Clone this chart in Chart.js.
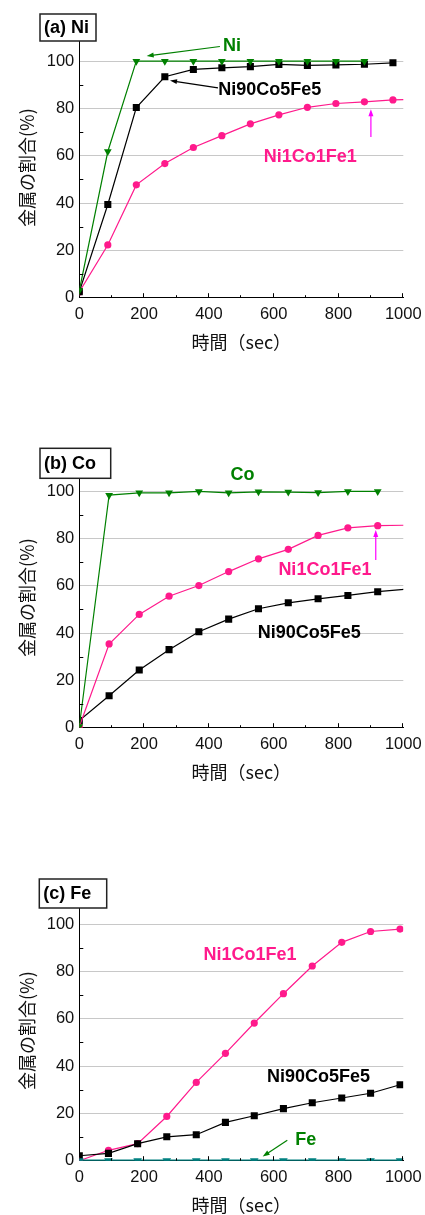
<!DOCTYPE html>
<html>
<head>
<meta charset="utf-8">
<script src="https://cdn.jsdelivr.net/npm/chart.js@4"></script>
<style>
body { margin: 0; background: #fff; }
#wrap { position: relative; width: 425px; height: 1215px; }
.panel { position: absolute; left: 0; width: 425px; height: 360px; }
</style>
</head>
<body>
<div id="wrap">
  <div class="panel" style="top:0px"><canvas id="chartA"></canvas></div>
  <div class="panel" style="top:430px"><canvas id="chartB"></canvas></div>
  <div class="panel" style="top:863px"><canvas id="chartC"></canvas></div>
</div>
<script>
// axis ticks
const xTicks = [0, 200, 400, 600, 800, 1000];
const yTicks = [0, 20, 40, 60, 80, 100];

// (a) Ni
const timeA = [0, 88, 176, 264, 352, 440, 528, 616, 704, 792, 880, 968, 1056];
const niA = [3, 61.8, 100, 100, 100, 100, 100, 100, 100, 100, 100];
const ni90A = [2.5, 39.4, 80.4, 93.4, 96.5, 97.2, 97.7, 98.6, 98.2, 98.4, 98.7, 99.3];
const ni1A = [2.4, 22.3, 47.7, 56.7, 63.5, 68.5, 73.5, 77.3, 80.5, 82.1, 82.8, 83.6, 83.9];

// (b) Co
const timeB = [0, 92, 185, 277, 369, 461, 553, 645, 737, 829, 921, 1013];
const coB = [0.5, 98.3, 99.3, 99.3, 99.9, 99.3, 99.7, 99.6, 99.4, 99.9, 99.9];
const ni1B = [0.4, 35.4, 47.9, 55.6, 60.1, 66.0, 71.4, 75.4, 81.3, 84.5, 85.4, 85.6];
const ni90B = [3.0, 13.5, 24.4, 33.0, 40.6, 45.9, 50.3, 52.8, 54.5, 55.9, 57.5, 58.6];

// (c) Fe
const timeC = [0, 90, 180, 270, 361, 451, 540, 630, 719, 810, 899, 990];
const ni1C = [0, 4.4, 7.2, 18.7, 33.1, 45.4, 58.2, 70.6, 82.3, 92.3, 96.9, 97.9];
const ni90C = [2.1, 3.1, 7.2, 10.1, 11.0, 16.2, 19.0, 22.0, 24.5, 26.5, 28.5, 32.1];
const feC = [0, 0, 0, 0, 0, 0, 0, 0, 0, 0, 0, 0];

const GREEN = '#008000';
const PINK = '#ff1a8c';
const MAGENTA = '#ff00ff';
const TEAL = '#008080';
const BLACK = '#000000';
const LABEL_FONT = 'bold 18px "Liberation Sans", Arial, sans-serif';
const TICK_FONT = { family: '"Liberation Sans", Arial, sans-serif', size: 16.5 };

function pts(xs, ys) {
    return ys.map((y, i) => ({ x: xs[i], y: y }));
}

function line(label, xs, ys, color, style, radius, rotation, width) {
    return {
        label: label,
        data: pts(xs, ys),
        borderColor: color,
        backgroundColor: color,
        borderWidth: width || 1.2,
        pointStyle: style,
        pointRadius: c => (c.raw && c.raw.x > 1000) ? 0 : radius,
        pointRotation: rotation || 0,
        pointBorderWidth: 0,
        tension: 0
    };
}

const notes = {
    id: 'notes',
    afterDraw(chart, args, opts) {
        const ctx = chart.ctx;
        const xs = chart.scales.x, ys = chart.scales.y;
        const area = chart.chartArea;
        ctx.save();
        // inward minor ticks
        ctx.strokeStyle = '#000';
        ctx.lineWidth = 1;
        for (let v = 10; v <= 90; v += 20) {
            const py = Math.round(ys.getPixelForValue(v)) + 0.5;
            ctx.beginPath(); ctx.moveTo(area.left, py); ctx.lineTo(area.left + 4, py); ctx.stroke();
        }
        for (let v = 100; v <= 1000; v += 100) {
            const px = Math.round(xs.getPixelForValue(v)) - 0.5;
            const len = (v % 200 === 0) ? 4.5 : 2.5;
            ctx.beginPath(); ctx.moveTo(px, area.bottom); ctx.lineTo(px, area.bottom - len); ctx.stroke();
        }
        // arrows
        (opts.arrows || []).forEach(a => {
            const x1 = xs.getPixelForValue(a.from[0]), y1 = ys.getPixelForValue(a.from[1]);
            const x2 = xs.getPixelForValue(a.to[0]), y2 = ys.getPixelForValue(a.to[1]);
            const ang = Math.atan2(y2 - y1, x2 - x1);
            ctx.strokeStyle = a.color; ctx.fillStyle = a.color; ctx.lineWidth = 1.2;
            ctx.beginPath(); ctx.moveTo(x1, y1); ctx.lineTo(x2 - 5 * Math.cos(ang), y2 - 5 * Math.sin(ang)); ctx.stroke();
            ctx.beginPath();
            ctx.moveTo(x2, y2);
            ctx.lineTo(x2 - 7 * Math.cos(ang) + 2.5 * Math.sin(ang), y2 - 7 * Math.sin(ang) - 2.5 * Math.cos(ang));
            ctx.lineTo(x2 - 7 * Math.cos(ang) - 2.5 * Math.sin(ang), y2 - 7 * Math.sin(ang) + 2.5 * Math.cos(ang));
            ctx.closePath(); ctx.fill();
        });
        // series labels
        ctx.font = LABEL_FONT;
        ctx.textAlign = 'center';
        ctx.textBaseline = 'middle';
        (opts.labels || []).forEach(l => {
            ctx.fillStyle = l.color;
            ctx.fillText(l.text, xs.getPixelForValue(l.at[0]), ys.getPixelForValue(l.at[1]));
        });
        // panel title box
        const b = opts.box;
        if (b) {
            ctx.fillStyle = '#fff';
            ctx.fillRect(b.x, b.y, b.w, b.h);
            ctx.strokeStyle = '#222'; ctx.lineWidth = 1.5;
            ctx.strokeRect(b.x, b.y, b.w, b.h);
            ctx.fillStyle = '#000';
            ctx.textAlign = 'left';
            ctx.fillText(b.text, b.x + 4, b.y + b.h / 2 + 1);
        }
        ctx.restore();
    }
};

function makeChart(id, datasets, noteOpts) {
    return new Chart(document.getElementById(id), {
        type: 'line',
        data: { datasets: datasets },
        options: {
            responsive: true,
            maintainAspectRatio: false,
            animation: false,
            layout: { padding: { top: 37.5, right: 21.7, bottom: 0, left: 0 } },
            plugins: { legend: { display: false }, tooltip: { enabled: false }, notes: noteOpts },
            scales: {
                x: {
                    type: 'linear', min: 0, max: 1000,
                    afterBuildTicks: s => { s.ticks = xTicks.map(v => ({ value: v })); },
                    afterFit: s => { s.height = 62.3; s.paddingLeft = 0; s.paddingRight = 0; },
                    grid: { color: 'rgba(0,0,0,0)', drawTicks: false },
                    border: { color: '#000', width: 1 },
                    ticks: { padding: 7, color: '#111', maxRotation: 0, font: TICK_FONT, callback: v => String(v) },
                    title: { display: true, text: '時間（sec）', color: '#111', padding: { bottom: 7 },
                             font: { family: '"Noto Sans CJK JP"', size: 18 } }
                },
                y: {
                    type: 'linear', min: 0, max: 110,
                    afterBuildTicks: s => { s.ticks = yTicks.map(v => ({ value: v })); },
                    afterFit: s => { s.width = 79.3; s.paddingTop = 0; s.paddingBottom = 0; },
                    grid: { color: c => (c.tick && c.tick.value > 0) ? '#c8c8c8' : 'rgba(0,0,0,0)', drawTicks: false, lineWidth: 1 },
                    border: { color: '#000', width: 1 },
                    ticks: { padding: 5, color: '#111', font: TICK_FONT, callback: v => String(v) },
                    title: { display: true, text: '金属の割合(%)', color: '#111', padding: { top: 16 },
                             font: { family: '"Noto Sans CJK JP"', size: 18 } }
                }
            }
        },
        plugins: [notes]
    });
}

makeChart('chartA', [
    line('Ni', timeA, niA, GREEN, 'triangle', 4.5, 180),
    line('Ni90Co5Fe5', timeA, ni90A, BLACK, 'rect', 5),
    line('Ni1Co1Fe1', timeA, ni1A, PINK, 'circle', 3.6)
], {
    box: { text: '(a) Ni', x: 40, y: 14, w: 56, h: 27 },
    labels: [
        { text: 'Ni', at: [471, 106.5], color: GREEN },
        { text: 'Ni90Co5Fe5', at: [588, 87.6], color: BLACK },
        { text: 'Ni1Co1Fe1', at: [713, 59.5], color: PINK }
    ],
    arrows: [
        { from: [434, 106.2], to: [208, 102.2], color: GREEN },
        { from: [428, 88.7], to: [280, 91.8], color: BLACK },
        { from: [900, 67.9], to: [900, 79.7], color: MAGENTA }
    ]
});

makeChart('chartB', [
    line('Co', timeB, coB, GREEN, 'triangle', 4.5, 180),
    line('Ni1Co1Fe1', timeB, ni1B, PINK, 'circle', 3.6),
    line('Ni90Co5Fe5', timeB, ni90B, BLACK, 'rect', 5)
], {
    box: { text: '(b) Co', x: 40, y: 18.3, w: 70.7, h: 30 },
    labels: [
        { text: 'Co', at: [504, 106.9], color: GREEN },
        { text: 'Ni1Co1Fe1', at: [758, 66.7], color: PINK },
        { text: 'Ni90Co5Fe5', at: [710, 39.9], color: BLACK }
    ],
    arrows: [
        { from: [915, 70.9], to: [915, 83.6], color: MAGENTA }
    ]
});

makeChart('chartC', [
    line('Fe', timeC, feC, TEAL, 'triangle', 5, 180, 2.2),
    line('Ni90Co5Fe5', timeC, ni90C, BLACK, 'rect', 5),
    line('Ni1Co1Fe1', timeC, ni1C, PINK, 'circle', 3.6)
], {
    box: { text: '(c) Fe', x: 39.3, y: 16, w: 67.4, h: 29 },
    labels: [
        { text: 'Ni1Co1Fe1', at: [527, 86.8], color: PINK },
        { text: 'Ni90Co5Fe5', at: [738, 35.5], color: BLACK },
        { text: 'Fe', at: [699, 8.9], color: GREEN }
    ],
    arrows: [
        { from: [642, 8.6], to: [566, 1.8], color: GREEN }
    ]
});
</script>
</body>
</html>
